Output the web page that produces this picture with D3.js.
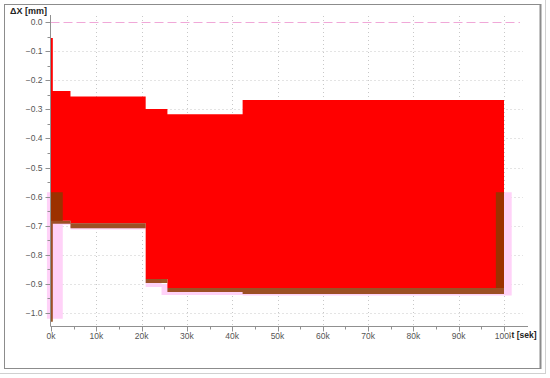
<!DOCTYPE html>
<html>
<head>
<meta charset="utf-8">
<script src="https://cdn.jsdelivr.net/npm/d3@7"></script>
<style>
  body { margin: 0; background: #fff; }
  svg { display: block; font-family: "Liberation Sans", Arial, sans-serif; }
</style>
</head>
<body>
<svg id="chart" width="550" height="378"></svg>
<script>
// times in k seconds, values in mm (step-after series)
const redT  = [0, 0.4, 4.3, 20.9, 25.7, 42.3, 100.0];
const redHi = [-0.055, -0.237, -0.256, -0.299, -0.317, -0.268, -0.268];
const redLo = [-0.683, -0.683, -0.692, -0.883, -0.914, -0.914, -0.914];

const brownT  = [0, 0.4, 2.6, 4.3, 20.9, 25.7, 42.3, 98.2, 100.0];
const brownHi = [-0.585, -0.585, -0.683, -0.692, -0.883, -0.914, -0.914, -0.585, -0.585];
const brownLo = [-1.03, -0.693, -0.693, -0.709, -0.897, -0.928, -0.935, -0.935, -0.935];

const pinkT  = [-0.9, 2.6, 4.3, 20.9, 24.4, 42.3, 98.2, 101.7];
const pinkHi = [-0.585, -0.67, -0.69, -0.88, -0.90, -0.91, -0.585, -0.585];
const pinkLo = [-1.02, -0.697, -0.713, -0.911, -0.938, -0.94, -0.94, -0.94];

const xTicks = [0, 10, 20, 30, 40, 50, 60, 70, 80, 90, 100];
const yTicks = [0, -0.1, -0.2, -0.3, -0.4, -0.5, -0.6, -0.7, -0.8, -0.9, -1.0];

const svg = d3.select("#chart");

// frame
svg.append("rect").attr("x", 4.5).attr("y", 4.5).attr("width", 536).attr("height", 364)
  .attr("fill", "#fff").attr("stroke", "#8c8c8c").attr("stroke-width", 1);
svg.append("line").attr("x1", 540.5).attr("x2", 540.5).attr("y1", 4).attr("y2", 369)
  .attr("stroke", "#8c8c8c").attr("stroke-width", 2);
svg.append("line").attr("x1", 0).attr("x2", 546).attr("y1", 373.5).attr("y2", 373.5)
  .attr("stroke", "#d0d0d0");
svg.append("line").attr("x1", 545.5).attr("x2", 545.5).attr("y1", 0).attr("y2", 374)
  .attr("stroke", "#d0d0d0");

const x = d3.scaleLinear().domain([0, 100]).range([51, 504]);
const y = d3.scaleLinear().domain([0, -1]).range([22, 313]);

const axisY = 326.5, axisX = 50.5;

// grid
svg.append("g").selectAll("line").data(xTicks.slice(1)).join("line")
  .attr("x1", d => Math.round(x(d)) + 0.5).attr("x2", d => Math.round(x(d)) + 0.5)
  .attr("y1", 16).attr("y2", axisY)
  .attr("stroke", "#c8c8c8").attr("stroke-dasharray", "1,3");
svg.append("g").selectAll("line").data(yTicks.slice(1)).join("line")
  .attr("x1", axisX).attr("x2", 523)
  .attr("y1", d => Math.round(y(d)) + 0.5).attr("y2", d => Math.round(y(d)) + 0.5)
  .attr("stroke", "#c8c8c8").attr("stroke-dasharray", "1,3");

// zero reference
svg.append("line").attr("x1", axisX).attr("x2", 520)
  .attr("y1", Math.round(y(0)) + 0.5).attr("y2", Math.round(y(0)) + 0.5)
  .attr("stroke", "#f0a8d8").attr("stroke-width", 1).attr("stroke-dasharray", "9,4");

function band(T, Hi, Lo) {
  const pts = T.map((t, i) => ({ t: t, hi: Hi[i], lo: Lo[i] }));
  return d3.area().curve(d3.curveStepAfter)
    .x(d => x(d.t)).y0(d => y(d.lo)).y1(d => y(d.hi))(pts);
}

svg.append("path").attr("d", band(pinkT, pinkHi, pinkLo)).attr("fill", "#ffd2f8");
svg.append("path").attr("d", band(redT, redHi, redLo)).attr("fill", "#ff0000");
svg.append("path").attr("d", band(brownT, brownHi, brownLo))
  .attr("fill", "#8b3a00").attr("fill-opacity", 0.85);

// axes
const gx = svg.append("g").attr("transform", `translate(0,${axisY})`);
gx.append("line").attr("x1", axisX).attr("x2", 528).attr("stroke", "#909090");
const minorX = d3.range(5, 100, 10);
gx.selectAll(".mx").data(minorX).join("line").attr("class", "mx")
  .attr("x1", d => Math.round(x(d)) + 0.5).attr("x2", d => Math.round(x(d)) + 0.5)
  .attr("y1", 0).attr("y2", 3).attr("stroke", "#909090");
gx.selectAll(".tx").data(xTicks).join("line").attr("class", "tx")
  .attr("x1", d => Math.round(x(d)) + 0.5).attr("x2", d => Math.round(x(d)) + 0.5)
  .attr("y1", 0).attr("y2", 5).attr("stroke", "#909090");
gx.selectAll("text").data(xTicks).join("text")
  .attr("x", d => x(d)).attr("y", 12)
  .attr("text-anchor", "middle").attr("font-size", 8.5).attr("fill", "#555")
  .text(d => d + "k");

const gy = svg.append("g").attr("transform", `translate(${axisX},0)`);
gy.append("line").attr("y1", 15).attr("y2", axisY).attr("stroke", "#909090");
const minorY = d3.range(10).map(i => -0.05 - i * 0.1);
gy.selectAll(".my").data(minorY).join("line").attr("class", "my")
  .attr("y1", d => Math.round(y(d)) + 0.5).attr("y2", d => Math.round(y(d)) + 0.5)
  .attr("x1", 0).attr("x2", -3).attr("stroke", "#909090");
gy.selectAll(".ty").data(yTicks).join("line").attr("class", "ty")
  .attr("y1", d => Math.round(y(d)) + 0.5).attr("y2", d => Math.round(y(d)) + 0.5)
  .attr("x1", 0).attr("x2", -5).attr("stroke", "#909090");
gy.selectAll("text").data(yTicks).join("text")
  .attr("x", -8).attr("y", d => y(d) + 3)
  .attr("text-anchor", "end").attr("font-size", 8.5).attr("fill", "#555")
  .text(d => d3.format(".1f")(d));

// axis titles
svg.append("text").attr("x", 10).attr("y", 14)
  .attr("font-size", 9).attr("font-weight", "bold").attr("fill", "#222")
  .text("ΔX [mm]");
svg.append("rect").attr("x", 511).attr("y", 330).attr("width", 27).attr("height", 10).attr("fill", "#fff");
svg.append("text").attr("x", 511.5).attr("y", 338)
  .attr("font-size", 8.5).attr("font-weight", "bold").attr("fill", "#222")
  .text("t [sek]");
</script>
</body>
</html>
